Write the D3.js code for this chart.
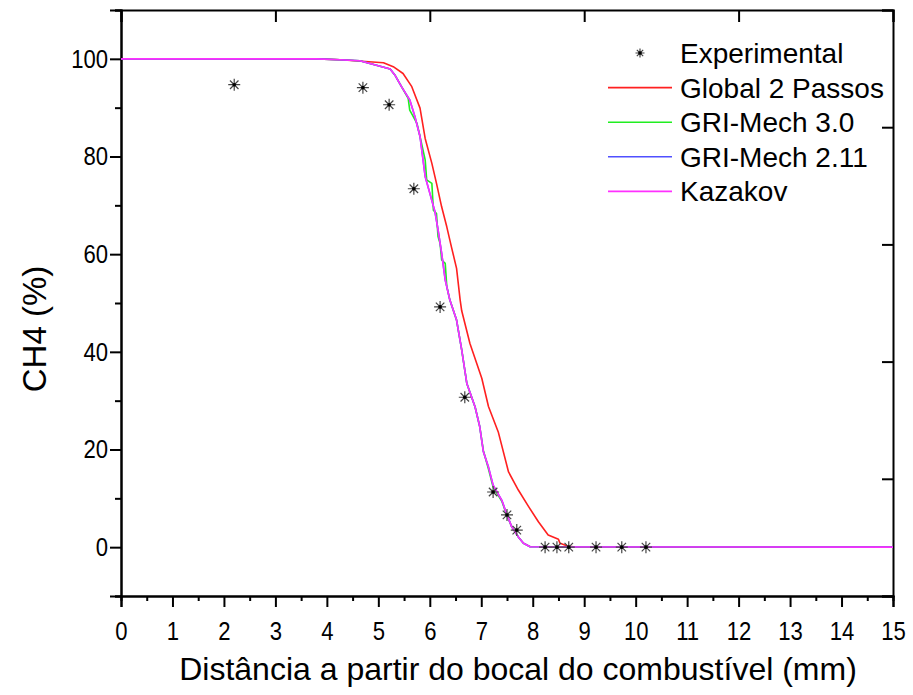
<!DOCTYPE html>
<html><head><meta charset="utf-8">
<script src="https://cdn.jsdelivr.net/npm/d3@7"></script>
<style>
html,body{margin:0;padding:0;background:#fff;}
text{font-family:"Liberation Sans",Arial,sans-serif;fill:#000;}
</style></head>
<body><svg id="chart" width="913" height="695"></svg>
<script>
// ---- data ----
const expX = [2.2, 4.7, 5.21, 5.69, 6.2, 6.68, 7.23, 7.5, 7.69, 8.24, 8.47, 8.7, 9.23, 9.73, 10.2];
const expY = [94.7, 94.1, 90.6, 73.4, 49.2, 30.7, 11.3, 6.6, 3.5, 0, 0, 0, 0, 0, 0];

const globalX = [0, 3.8, 4.26, 5.1, 5.29, 5.48, 5.65, 5.81, 5.91, 6.04, 6.13, 6.23, 6.33, 6.42, 6.52, 6.59, 6.62, 6.78, 7.01, 7.14, 7.33, 7.53, 7.72, 7.92, 8.11, 8.3, 8.5, 8.53, 8.69, 8.85, 15];
const globalY = [100, 100, 99.8, 99.2, 98.4, 97.0, 94.3, 89.9, 83.7, 78.6, 74.5, 69.7, 65.6, 61.5, 57.1, 50.6, 48.4, 41.7, 34.6, 28.8, 23.6, 15.4, 11.7, 8.3, 5.2, 2.5, 1.6, 0.8, 0.2, 0, 0];

const gri30X = [0, 3.8, 4.25, 4.64, 5.23, 5.32, 5.45, 5.58, 5.61, 5.75, 5.81, 5.91, 5.94, 6.04, 6.07, 6.13, 6.16, 6.2, 6.23, 6.3, 6.33, 6.39, 6.52, 6.62, 6.72, 6.88, 6.97, 7.04, 7.14, 7.23, 7.4, 7.49, 7.59, 7.72, 7.82, 7.95, 15];
const gri30Y = [100, 100, 99.8, 99.6, 97.9, 96.7, 94.3, 91.9, 89.5, 86.8, 84.1, 79.3, 75.2, 74.5, 69.0, 68.3, 63.6, 62.2, 58.8, 58.1, 53.4, 50.6, 46.5, 40.4, 33.5, 28.7, 24.7, 19.8, 16.0, 12.3, 9.4, 6.7, 4.2, 2.1, 0.8, 0.1, 0];

const gri211X = [0, 3.8, 4.25, 4.64, 5.23, 5.32, 5.45, 5.61, 5.71, 5.81, 5.91, 6.0, 6.1, 6.16, 6.23, 6.3, 6.39, 6.52, 6.62, 6.72, 6.88, 6.97, 7.04, 7.14, 7.23, 7.4, 7.49, 7.59, 7.72, 7.82, 7.95, 15];
const gri211Y = [100, 100, 99.8, 99.6, 97.9, 96.7, 94.3, 91.6, 88.2, 84.1, 75.9, 72.5, 68.7, 65.0, 60.2, 54.7, 50.6, 46.5, 40.4, 33.5, 28.7, 24.7, 19.6, 16.4, 12.7, 9.6, 6.9, 4.2, 2.1, 0.8, 0.1, 0];

const kazX = [0, 3.8, 4.25, 4.64, 5.23, 5.32, 5.45, 5.61, 5.71, 5.81, 5.91, 6.0, 6.1, 6.16, 6.23, 6.3, 6.39, 6.52, 6.62, 6.72, 6.88, 6.97, 7.04, 7.14, 7.23, 7.4, 7.49, 7.59, 7.72, 7.82, 7.95, 15];
const kazY = [100, 100, 99.8, 99.6, 97.9, 96.7, 94.3, 91.6, 88.2, 84.1, 75.9, 72.5, 68.7, 65.0, 60.2, 54.7, 50.6, 46.5, 40.4, 33.5, 28.7, 24.7, 19.6, 16.4, 12.7, 9.6, 6.9, 4.2, 2.1, 0.8, 0.1, 0];

const seriesNames = ["Experimental", "Global 2 Passos", "GRI-Mech 3.0", "GRI-Mech 2.11", "Kazakov"];
const seriesColors = ["#444444", "#ff2020", "#20ee20", "#5050ff", "#ff30ff"];

const xTicks = [0,1,2,3,4,5,6,7,8,9,10,11,12,13,14,15];
const yTicks = [0,20,40,60,80,100];
const xTitle = "Distância a partir do bocal do combustível (mm)";
const yTitle = "CH4 (%)";

// ---- layout ----
const L = 121, R = 893, T = 10, B = 596;
const svg = d3.select("#chart");
const x = d3.scaleLinear().domain([0, 15]).range([L, R]);
const y = d3.scaleLinear().domain([-10, 110]).range([B, T]);

const tickFont = 26, sx = 0.85;

// bottom axis (outward)
const gB = svg.append("g").attr("transform", `translate(0,${B})`);
gB.call(d3.axisBottom(x).tickValues(d3.range(0.5, 15, 1)).tickSize(5).tickFormat(""));
const gB2 = gB.append("g").call(d3.axisBottom(x).tickValues(xTicks).tickSize(11).tickPadding(15).tickFormat(d3.format("d")));
// left axis
const gL = svg.append("g").attr("transform", `translate(${L},0)`);
gL.call(d3.axisLeft(y).tickValues(d3.range(-10, 111, 20)).tickSize(6).tickFormat(""));
const gL2 = gL.append("g").call(d3.axisLeft(y).tickValues(yTicks).tickSize(11).tickPadding(2).tickFormat(d3.format("d")));
// top axis (inward)
const gT = svg.append("g").attr("transform", `translate(0,${T})`);
gT.call(d3.axisBottom(x).tickValues([1.5,4.5,7.5,10.5,13.5]).tickSize(6).tickFormat(""));
gT.call(d3.axisBottom(x).tickValues([0,3,6,9,12,15]).tickSize(12).tickFormat(""));
// right axis (inward)
const gR = svg.append("g").attr("transform", `translate(${R},0)`);
gR.call(d3.axisLeft(y).tickValues([2,26,50,74,98]).tickSize(6).tickFormat(""));
gR.call(d3.axisLeft(y).tickValues([-10,14,38,62,86,110]).tickSize(11).tickFormat(""));

svg.selectAll(".domain").attr("stroke", "#000").attr("stroke-width", 2);
svg.selectAll(".tick line").attr("stroke", "#000").attr("stroke-width", 2);
svg.selectAll(".tick text").attr("font-size", tickFont).attr("font-family", "Liberation Sans, Arial, sans-serif").attr("fill", "#000")
  .each(function() {
    const t = d3.select(this);
    const xv = +t.attr("x") || 0;
    t.attr("x", xv / sx).attr("transform", `scale(${sx},1)`);
  });

// titles
svg.append("text").attr("x", 518).attr("y", 680).attr("text-anchor", "middle")
  .attr("font-size", 32).text(xTitle);
svg.append("text").attr("transform", "translate(46,329) rotate(-90)").attr("text-anchor", "middle")
  .attr("font-size", 33).text(yTitle);

// clip
svg.append("clipPath").attr("id", "clip").append("rect").attr("x", L).attr("y", T).attr("width", R - L).attr("height", B - T);

const line = d3.line().x(d => x(d[0])).y(d => y(d[1]));
const curves = [
  [globalX, globalY, seriesColors[1]],
  [gri30X, gri30Y, seriesColors[2]],
  [gri211X, gri211Y, seriesColors[3]],
  [kazX, kazY, seriesColors[4]]
];
const gC = svg.append("g").attr("clip-path", "url(#clip)");
curves.forEach(([xs, ys, c]) => {
  gC.append("path").datum(xs.map((v, i) => [v, ys[i]]))
    .attr("d", line).attr("fill", "none").attr("stroke", c).attr("stroke-width", 1.6)
    .attr("stroke-linejoin", "round");
});

// star marker
function star(sel, r) {
  const a = r * 0.7071;
  sel.append("path").attr("d",
    `M${-r},0L${r},0M0,${-r}L0,${r}M${-a},${-a}L${a},${a}M${-a},${a}L${a},${-a}`)
    .attr("stroke", seriesColors[0]).attr("stroke-width", 1.2).attr("fill", "none");
  sel.append("circle").attr("r", 1.8).attr("fill", "#000");
}
expX.forEach((v, i) => {
  const g = svg.append("g").attr("transform", `translate(${x(v)},${y(expY[i])})`);
  star(g, 6);
});

// legend
const legX = 608, legY0 = 53, legDy = 34.6;
seriesNames.forEach((n, i) => {
  const yy = legY0 + i * legDy;
  if (i === 0) {
    const g = svg.append("g").attr("transform", `translate(${legX + 32},${yy})`);
    star(g, 4.5);
  } else {
    svg.append("line").attr("x1", legX).attr("x2", legX + 64).attr("y1", yy).attr("y2", yy)
      .attr("stroke", seriesColors[i]).attr("stroke-width", 1.6);
  }
  svg.append("text").attr("x", 680).attr("y", yy + 10).attr("font-size", 28).text(n);
});
</script></body></html>
